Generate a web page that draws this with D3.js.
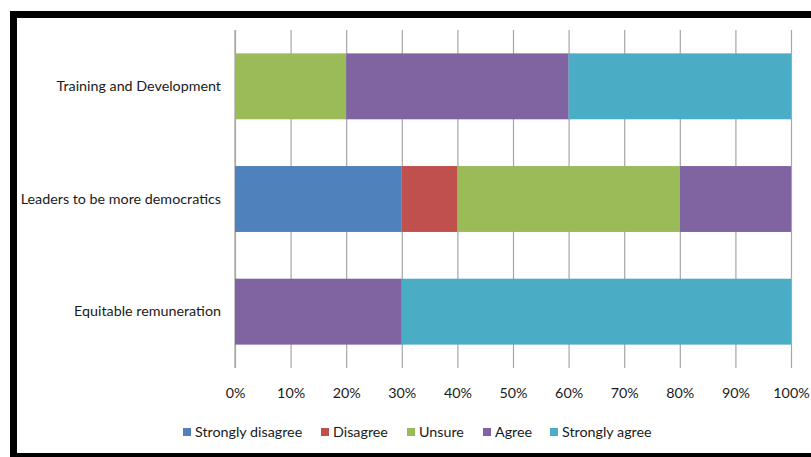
<!DOCTYPE html>
<html>
<head>
<meta charset="utf-8">
<script src="https://cdn.jsdelivr.net/npm/d3@7"></script>
<style>
  html, body { margin: 0; padding: 0; background: #fff; }
  svg { display: block; }
  text { font-family: Lato, "Open Sans", sans-serif; fill: #1a1a1a; }
</style>
</head>
<body>
<svg id="chart" width="811" height="457"></svg>
<script>
// Survey categories (top to bottom)
const categories = ["Training and Development", "Leaders to be more democratics", "Equitable remuneration"];
// Response levels, in stacking order
const seriesNames = ["Strongly disagree", "Disagree", "Unsure", "Agree", "Strongly agree"];
const seriesColors = ["#4F81BD", "#C0504D", "#9BBB59", "#8064A2", "#4BACC6"];
// Percentage share of each response per category
const stronglyDisagree = [0, 30, 0];
const disagree = [0, 10, 0];
const unsure = [20, 40, 0];
const agree = [40, 20, 30];
const stronglyAgree = [40, 0, 70];
const tickValues = [0, 10, 20, 30, 40, 50, 60, 70, 80, 90, 100];

const svg = d3.select("#chart");
const FS = 14.3;

// Outer frame
svg.append("rect").attr("x", 13.5).attr("y", 14.5).attr("width", 820).attr("height", 442)
  .attr("fill", "none").attr("stroke", "#000").attr("stroke-width", 7);

const plot = { left: 235, right: 791, top: 30, bottom: 368 };

const x = d3.scaleLinear().domain([0, 100]).range([plot.left, plot.right]);
const y = d3.scaleBand().domain(categories).range([plot.top, plot.bottom]).paddingInner(0.415).paddingOuter(0.2075);

const rows = categories.map((c, i) => ({
  category: c,
  "Strongly disagree": stronglyDisagree[i],
  "Disagree": disagree[i],
  "Unsure": unsure[i],
  "Agree": agree[i],
  "Strongly agree": stronglyAgree[i]
}));
const stacked = d3.stack().keys(seriesNames)(rows);

// Vertical gridlines
const grid = d3.axisBottom(x).tickValues(tickValues).tickSize(-(plot.bottom - plot.top)).tickFormat("");
svg.append("g").attr("transform", `translate(0,${plot.bottom})`).call(grid)
  .call(g => g.select(".domain").remove())
  .call(g => g.selectAll("line").attr("stroke", "#a6a6a6").attr("stroke-width", 1.2));

// Left axis line
svg.append("line").attr("x1", x(0)).attr("x2", x(0)).attr("y1", plot.top).attr("y2", plot.bottom)
  .attr("stroke", "#a6a6a6").attr("stroke-width", 1.2);

// Stacked bars
svg.append("g").selectAll("g").data(stacked).join("g")
  .attr("fill", (d, i) => seriesColors[i])
  .selectAll("rect").data(d => d).join("rect")
  .attr("x", d => x(d[0]))
  .attr("y", d => y(d.data.category))
  .attr("width", d => x(d[1]) - x(d[0]))
  .attr("height", y.bandwidth());

// X tick labels
const xAxis = d3.axisBottom(x).tickValues(tickValues).tickSize(0).tickFormat(d => d + "%");
svg.append("g").attr("transform", `translate(0,${plot.bottom + 17})`).call(xAxis)
  .call(g => g.select(".domain").remove())
  .call(g => g.selectAll("text").attr("font-size", FS).attr("font-family", "Lato, sans-serif").attr("fill", "#1a1a1a"));

// Category labels
const yAxis = d3.axisLeft(y).tickSize(0).tickPadding(14);
svg.append("g").attr("transform", `translate(${plot.left},0)`).call(yAxis)
  .call(g => g.select(".domain").remove())
  .call(g => g.selectAll("text").attr("font-size", FS).attr("font-family", "Lato, sans-serif").attr("fill", "#1a1a1a"));

// Legend
const legendX = [183, 321, 407, 483, 550];
const legend = svg.append("g").selectAll("g").data(seriesNames).join("g")
  .attr("transform", (d, i) => `translate(${legendX[i]},432)`);
legend.append("rect").attr("x", 0).attr("y", -4).attr("width", 8).attr("height", 8)
  .attr("fill", (d, i) => seriesColors[i]);
legend.append("text").attr("x", 12).attr("y", 0).attr("dy", "0.35em")
  .attr("font-size", FS).text(d => d);
</script>
</body>
</html>
